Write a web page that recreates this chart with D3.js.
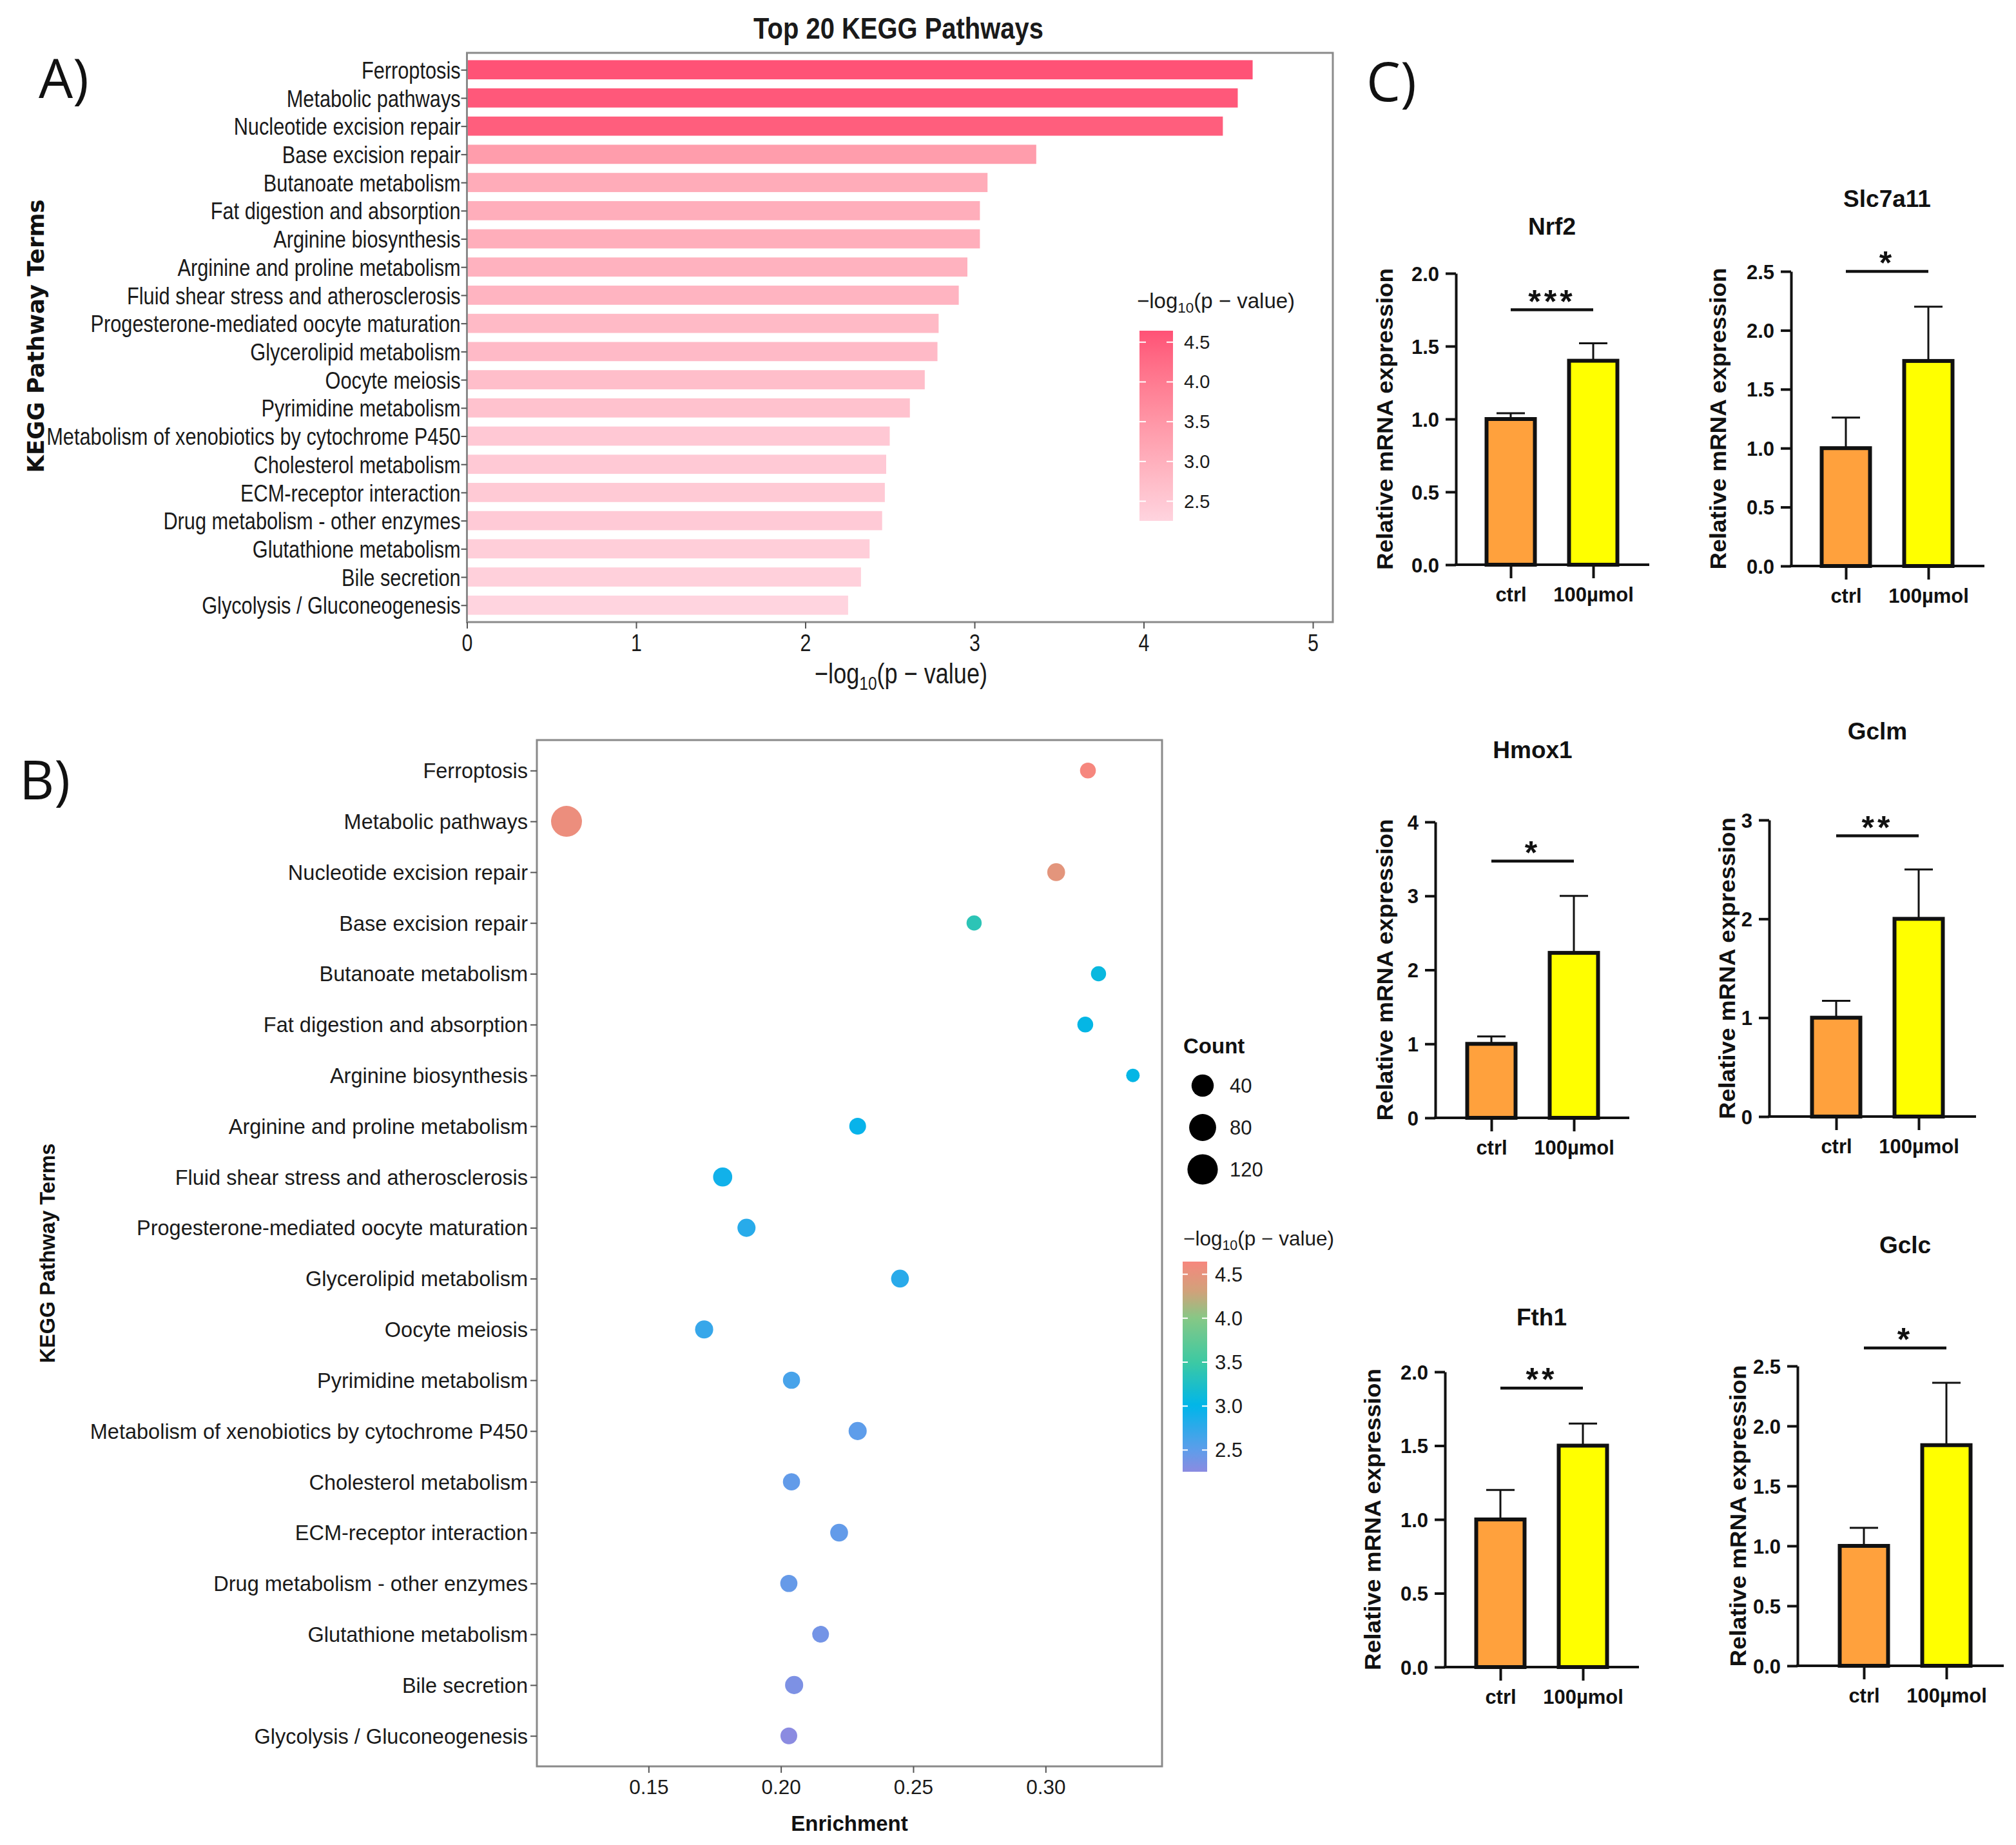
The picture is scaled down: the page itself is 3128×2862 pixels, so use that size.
<!DOCTYPE html>
<html><head><meta charset="utf-8">
<script src="https://cdn.jsdelivr.net/npm/d3@7"></script>
<style>body{margin:0;background:#fff} svg{display:block}</style>
</head><body>
<svg id="c" width="3128" height="2862" xmlns="http://www.w3.org/2000/svg"></svg>
<script>
// ================= DATA =================
const pathways = ["Ferroptosis","Metabolic pathways","Nucleotide excision repair","Base excision repair",
 "Butanoate metabolism","Fat digestion and absorption","Arginine biosynthesis","Arginine and proline metabolism",
 "Fluid shear stress and atherosclerosis","Progesterone-mediated oocyte maturation","Glycerolipid metabolism",
 "Oocyte meiosis","Pyrimidine metabolism","Metabolism of xenobiotics by cytochrome P450","Cholesterol metabolism",
 "ECM-receptor interaction","Drug metabolism - other enzymes","Glutathione metabolism","Bile secretion",
 "Glycolysis / Gluconeogenesis"];
const negLogP = [4.644,4.556,4.468,3.365,3.077,3.032,3.032,2.958,2.907,2.788,2.781,2.706,2.618,2.499,2.478,2.470,2.454,2.380,2.329,2.253];
const enrichment = [0.316,0.119,0.304,0.273,0.320,0.315,0.333,0.229,0.178,0.187,0.245,0.171,0.204,0.229,0.204,0.222,0.203,0.215,0.205,0.203];
const counts = [13,127,18,12,12,13,11,15,23,19,18,19,16,19,16,18,16,15,19,15];
const xTicksA = [0,1,2,3,4,5];
const xTicksB = [0.15,0.20,0.25,0.30];
const colorBreaks = [2.5,3.0,3.5,4.0,4.5];
const sizeBreaks = [40,80,120];

const genes = ["Nrf2","Slc7a11","Hmox1","Gclm","Fth1","Gclc"];
const groups = ["ctrl","100µmol"];
const ctrlMean = [1.00,1.00,1.00,1.00,1.00,1.00];
const ctrlUpper = [1.04,1.26,1.10,1.17,1.20,1.15];
const treatMean = [1.40,1.74,2.23,2.00,1.50,1.84];
const treatUpper = [1.52,2.20,3.00,2.50,1.65,2.36];
const yMaxC = [2.0,2.5,4,3,2.0,2.5];
const yStepC = [0.5,0.5,1,1,0.5,0.5];
const sigStars = ["***","*","*","**","**","*"];
const sigLevel = [1.75,2.50,3.47,2.84,1.89,2.65];

// ================= LAYOUT =================
const svg = d3.select("#c");
const NARROW = 0.82;
const SANS = "'Liberation Sans', Arial, sans-serif";
const FRAME = "#8a8a8a";

function narrowText(g, x, y, size, anchor, weight) {
  return g.append("text")
    .attr("transform", `translate(${x},${y}) scale(${NARROW},1)`)
    .attr("text-anchor", anchor).attr("font-family", SANS)
    .attr("font-size", size).attr("font-weight", weight || "normal").attr("fill", "#1a1a1a");
}
function logTitle(t, size) {
  t.append("tspan").text("\u2212log");
  t.append("tspan").text("10").attr("font-size", size * 0.68).attr("dy", size * 0.22);
  t.append("tspan").text("(p \u2212 value)").attr("dy", -size * 0.22);
}

// ---------- Panel letters ----------
[["A)",60,152],["B)",30,1240],["C)",2120,157]].forEach(([s,x,y]) => {
  svg.append("text").attr("x",x).attr("y",y).text(s)
    .attr("font-family","'Open Sans','Noto Sans',sans-serif").attr("font-size",84).attr("fill","#111");
});

// ================= PANEL A =================
const A = {l:724.5, r:2068, t:82, b:965};
const xA = d3.scaleLinear().domain([0,5.118]).range([A.l, A.r]);
const yA = d3.scalePoint().domain(pathways).range([A.t, A.b]).padding(0.6);
const pMin = d3.min(negLogP), pMax = d3.max(negLogP);
const colA = d3.scaleLinear().domain([pMin, pMax]).range(["#FFD4DF","#FF5276"]).interpolate(d3.interpolateLab);
const gA = svg.append("g");
const barH = yA.step() * 0.68;

gA.selectAll("rect.bar").data(pathways).join("rect")
  .attr("x", xA(0)).attr("y", d => yA(d) - barH/2)
  .attr("width", (d,i) => xA(negLogP[i]) - xA(0)).attr("height", barH)
  .attr("fill", (d,i) => colA(negLogP[i]));

gA.append("rect").attr("x",A.l).attr("y",A.t).attr("width",A.r-A.l).attr("height",A.b-A.t)
  .attr("fill","none").attr("stroke",FRAME).attr("stroke-width",3);

const axYA = gA.append("g").attr("transform",`translate(${A.l},0)`)
  .call(d3.axisLeft(yA).tickSize(9).tickPadding(3));
axYA.select(".domain").remove();
axYA.selectAll(".tick line").attr("stroke","#555").attr("stroke-width",2);
axYA.selectAll(".tick text").attr("transform",`scale(${NARROW},1)`)
  .attr("font-family",SANS).attr("font-size",37.5).attr("fill","#1a1a1a").attr("dy","0.35em");

const axXA = gA.append("g").attr("transform",`translate(0,${A.b})`)
  .call(d3.axisBottom(xA).tickValues(xTicksA).tickFormat(d3.format("d")).tickSize(10).tickPadding(8));
axXA.select(".domain").remove();
axXA.selectAll(".tick line").attr("stroke","#555").attr("stroke-width",2);
axXA.selectAll(".tick text").attr("transform",`scale(${NARROW},1)`)
  .attr("font-family",SANS).attr("font-size",37).attr("fill","#1a1a1a").attr("dy","0.72em");

narrowText(gA, 1394, 60, 47, "middle", "bold").text("Top 20 KEGG Pathways").attr("transform",`translate(1394,60) scale(0.85,1)`);
logTitle(narrowText(gA, 1398, 1060, 44, "middle"), 44);
gA.append("text").attr("transform",`translate(68,${(A.t+A.b)/2 - 2}) rotate(-90)`)
  .attr("text-anchor","middle").attr("font-family","'DejaVu Sans',Verdana,sans-serif")
  .attr("font-weight","bold").attr("font-size",35.5).attr("fill","#111").text("KEGG Pathway Terms");

const defs = svg.append("defs");
const legA = {x:1768, w:52};
const yLegA = d3.scaleLinear().domain([pMin, pMax]).range([808, 513]);
const gradA = defs.append("linearGradient").attr("id","gradA").attr("x1",0).attr("y1",1).attr("x2",0).attr("y2",0);
d3.range(0,1.0001,0.05).forEach(t => gradA.append("stop").attr("offset",t).attr("stop-color",colA(pMin + t*(pMax-pMin))));
gA.append("rect").attr("x",legA.x).attr("y",yLegA(pMax)).attr("width",legA.w).attr("height",yLegA(pMin)-yLegA(pMax)).attr("fill","url(#gradA)");
colorBreaks.forEach(v => {
  const y = yLegA(v);
  gA.append("line").attr("x1",legA.x).attr("x2",legA.x+10).attr("y1",y).attr("y2",y).attr("stroke","#fff").attr("stroke-width",2);
  gA.append("line").attr("x1",legA.x+legA.w-10).attr("x2",legA.x+legA.w).attr("y1",y).attr("y2",y).attr("stroke","#fff").attr("stroke-width",2);
  gA.append("text").attr("x",legA.x+legA.w+17).attr("y",y+10).attr("font-family",SANS).attr("font-size",29)
    .attr("fill","#1a1a1a").text(d3.format(".1f")(v));
});
logTitle(gA.append("text").attr("x",1764).attr("y",478).attr("font-family",SANS).attr("font-size",33).attr("fill","#1a1a1a"), 33);

// ================= PANEL B =================
const B = {l:833, r:1803, t:1148, b:2740};
const xB = d3.scaleLinear().domain([0.1078,0.344]).range([B.l, B.r]);
const yB = d3.scalePoint().domain(pathways).range([B.t, B.b]).padding(0.6);
const colB = d3.scaleLinear().domain([2.253,2.5,3.0,3.5,4.0,4.3,4.644])
  .range(["#8B8BE1","#5E9DEA","#00B5EA","#3CC9A3","#86C886","#D0A27A","#F6877E"]);
const cMin = d3.min(counts), cMax = d3.max(counts);
const rUnit = d3.scaleLinear().domain([0,1]).range([10.5,24]);
const rScale = c => rUnit(Math.sqrt(Math.max(0,(c - cMin)/(cMax - cMin))));
const gB = svg.append("g");

gB.append("rect").attr("x",B.l).attr("y",B.t).attr("width",B.r-B.l).attr("height",B.b-B.t)
  .attr("fill","none").attr("stroke",FRAME).attr("stroke-width",3);

gB.selectAll("circle.dot").data(pathways).join("circle")
  .attr("cx",(d,i)=>xB(enrichment[i])).attr("cy",d=>yB(d)).attr("r",(d,i)=>rScale(counts[i]))
  .attr("fill",(d,i)=>colB(negLogP[i]));

const axYB = gB.append("g").attr("transform",`translate(${B.l},0)`)
  .call(d3.axisLeft(yB).tickSize(10).tickPadding(4));
axYB.select(".domain").remove();
axYB.selectAll(".tick line").attr("stroke","#555").attr("stroke-width",2);
axYB.selectAll(".tick text").attr("font-family",SANS).attr("font-size",32.5).attr("fill","#1a1a1a").attr("dy","0.35em");

const axXB = gB.append("g").attr("transform",`translate(0,${B.b})`)
  .call(d3.axisBottom(xB).tickValues(xTicksB).tickFormat(d3.format(".2f")).tickSize(10).tickPadding(10));
axXB.select(".domain").remove();
axXB.selectAll(".tick line").attr("stroke","#555").attr("stroke-width",2);
axXB.selectAll(".tick text").attr("font-family",SANS).attr("font-size",31.5).attr("fill","#1a1a1a").attr("dy","0.72em");

gB.append("text").attr("x",(B.l+B.r)/2).attr("y",2840).attr("text-anchor","middle").attr("font-family",SANS)
  .attr("font-weight","bold").attr("font-size",33).attr("fill","#111").text("Enrichment");
gB.append("text").attr("transform",`translate(85,${(B.t+B.b)/2}) rotate(-90)`).attr("text-anchor","middle")
  .attr("font-family",SANS).attr("font-weight","bold").attr("font-size",32.5).attr("fill","#111").text("KEGG Pathway Terms");

gB.append("text").attr("x",1836).attr("y",1634).attr("font-family",SANS).attr("font-weight","bold")
  .attr("font-size",33).attr("fill","#111").text("Count");
sizeBreaks.forEach((c,i) => {
  const cy = 1684 + i*65;
  gB.append("circle").attr("cx",1866).attr("cy",cy).attr("r",rScale(c)).attr("fill","#000");
  gB.append("text").attr("x",1908).attr("y",cy+11).attr("font-family",SANS).attr("font-size",31).attr("fill","#1a1a1a").text(c);
});
const legB = {x:1835, w:38};
const yLegB = d3.scaleLinear().domain([pMin,pMax]).range([2283,1957]);
const gradB = defs.append("linearGradient").attr("id","gradB").attr("x1",0).attr("y1",1).attr("x2",0).attr("y2",0);
d3.range(0,1.0001,0.02).forEach(t => gradB.append("stop").attr("offset",t).attr("stop-color",colB(pMin + t*(pMax-pMin))));
gB.append("rect").attr("x",legB.x).attr("y",yLegB(pMax)).attr("width",legB.w).attr("height",yLegB(pMin)-yLegB(pMax)).attr("fill","url(#gradB)");
colorBreaks.forEach(v => {
  const y = yLegB(v);
  gB.append("line").attr("x1",legB.x).attr("x2",legB.x+8).attr("y1",y).attr("y2",y).attr("stroke","#fff").attr("stroke-width",2);
  gB.append("line").attr("x1",legB.x+legB.w-8).attr("x2",legB.x+legB.w).attr("y1",y).attr("y2",y).attr("stroke","#fff").attr("stroke-width",2);
  gB.append("text").attr("x",1885).attr("y",y+11).attr("font-family",SANS).attr("font-size",31).attr("fill","#1a1a1a").text(d3.format(".1f")(v));
});
logTitle(gB.append("text").attr("x",1836).attr("y",1932).attr("font-family",SANS).attr("font-size",31.5).attr("fill","#1a1a1a"), 31.5);

// ================= PANEL C =================
const layoutC = [
  {ax:2259, y0:876,  yTop:424,  titleY:364,  labOff:110, xOff:85,  xLen:300},
  {ax:2779, y0:878,  yTop:421,  titleY:321,  labOff:113, xOff:85,  xLen:300},
  {ax:2227, y0:1734, yTop:1275, titleY:1176, labOff:78,  xOff:87,  xLen:301},
  {ax:2745, y0:1732, yTop:1272, titleY:1147, labOff:65,  xOff:104, xLen:321},
  {ax:2242, y0:2586, yTop:2128, titleY:2056, labOff:112, xOff:86,  xLen:301},
  {ax:2789, y0:2584, yTop:2119, titleY:1944, labOff:92,  xOff:103, xLen:320}
];
const barColors = {"ctrl":"#FFA13D","100µmol":"#FFFF00"};
const INK = "#111";
genes.forEach((gname, i) => {
  const L = layoutC[i];
  const g = svg.append("g");
  const y = d3.scaleLinear().domain([0, yMaxC[i]]).range([L.y0, L.yTop]);
  const x = d3.scalePoint().domain(groups).range([L.ax + L.xOff, L.ax + L.xOff + 128]);
  const means = [ctrlMean[i], treatMean[i]];
  const uppers = [ctrlUpper[i], treatUpper[i]];
  const bw = 75;

  groups.forEach((grp, j) => {
    g.append("line").attr("x1",x(grp)).attr("x2",x(grp)).attr("y1",y(means[j])).attr("y2",y(uppers[j]))
      .attr("stroke",INK).attr("stroke-width",3);
    g.append("line").attr("x1",x(grp)-22).attr("x2",x(grp)+22).attr("y1",y(uppers[j])).attr("y2",y(uppers[j]))
      .attr("stroke",INK).attr("stroke-width",3);
  });
  g.selectAll("rect").data(groups).join("rect")
    .attr("x", d => x(d) - bw/2).attr("y", (d,j) => y(means[j]))
    .attr("width", bw).attr("height", (d,j) => y(0) - y(means[j]))
    .attr("fill", d => barColors[d]).attr("stroke", INK).attr("stroke-width", 6);

  const ticks = d3.range(0, yMaxC[i] + 1e-9, yStepC[i]);
  const ay = g.append("g").attr("transform",`translate(${L.ax},0)`)
    .call(d3.axisLeft(y).tickValues(ticks).tickSize(16).tickSizeOuter(0).tickPadding(10)
      .tickFormat(yStepC[i] < 1 ? d3.format(".1f") : d3.format("d")));
  ay.select(".domain").attr("stroke",INK).attr("stroke-width",4);
  ay.selectAll(".tick line").attr("stroke",INK).attr("stroke-width",4);
  ay.selectAll(".tick text").attr("font-family",SANS).attr("font-weight","bold").attr("font-size",31)
    .attr("fill",INK).attr("dy","0.36em");

  g.append("line").attr("x1",L.ax-2).attr("x2",L.ax+L.xLen).attr("y1",L.y0).attr("y2",L.y0)
    .attr("stroke",INK).attr("stroke-width",4);
  const axx = g.append("g").attr("transform",`translate(0,${L.y0})`)
    .call(d3.axisBottom(x).tickSize(21).tickSizeOuter(0).tickPadding(14));
  axx.select(".domain").remove();
  axx.selectAll(".tick line").attr("stroke",INK).attr("stroke-width",4);
  axx.selectAll(".tick text").attr("font-family",SANS).attr("font-weight","bold").attr("font-size",31)
    .attr("fill",INK).attr("dy","0.72em");

  const mid = (x(groups[0]) + x(groups[1])) / 2;
  g.append("text").attr("x",mid).attr("y",L.titleY).attr("text-anchor","middle").attr("font-family",SANS)
    .attr("font-weight","bold").attr("font-size",37).attr("fill",INK).text(gname);
  g.append("text").attr("transform",`translate(${L.ax - L.labOff + 12},${(L.y0+L.yTop)/2}) rotate(-90)`)
    .attr("text-anchor","middle").attr("font-family",SANS).attr("font-weight","bold").attr("font-size",35)
    .attr("textLength",468).attr("lengthAdjust","spacingAndGlyphs").attr("fill",INK).text("Relative mRNA expression");
  const sy = y(sigLevel[i]);
  g.append("line").attr("x1",x(groups[0])).attr("x2",x(groups[1])).attr("y1",sy).attr("y2",sy)
    .attr("stroke",INK).attr("stroke-width",4.5);
  g.append("text").attr("x",mid).attr("y",sy+4).attr("text-anchor","middle").attr("font-family",SANS)
    .attr("font-weight","bold").attr("font-size",50).attr("letter-spacing",5).attr("fill",INK).text(sigStars[i]);
});
</script>
</body></html>
